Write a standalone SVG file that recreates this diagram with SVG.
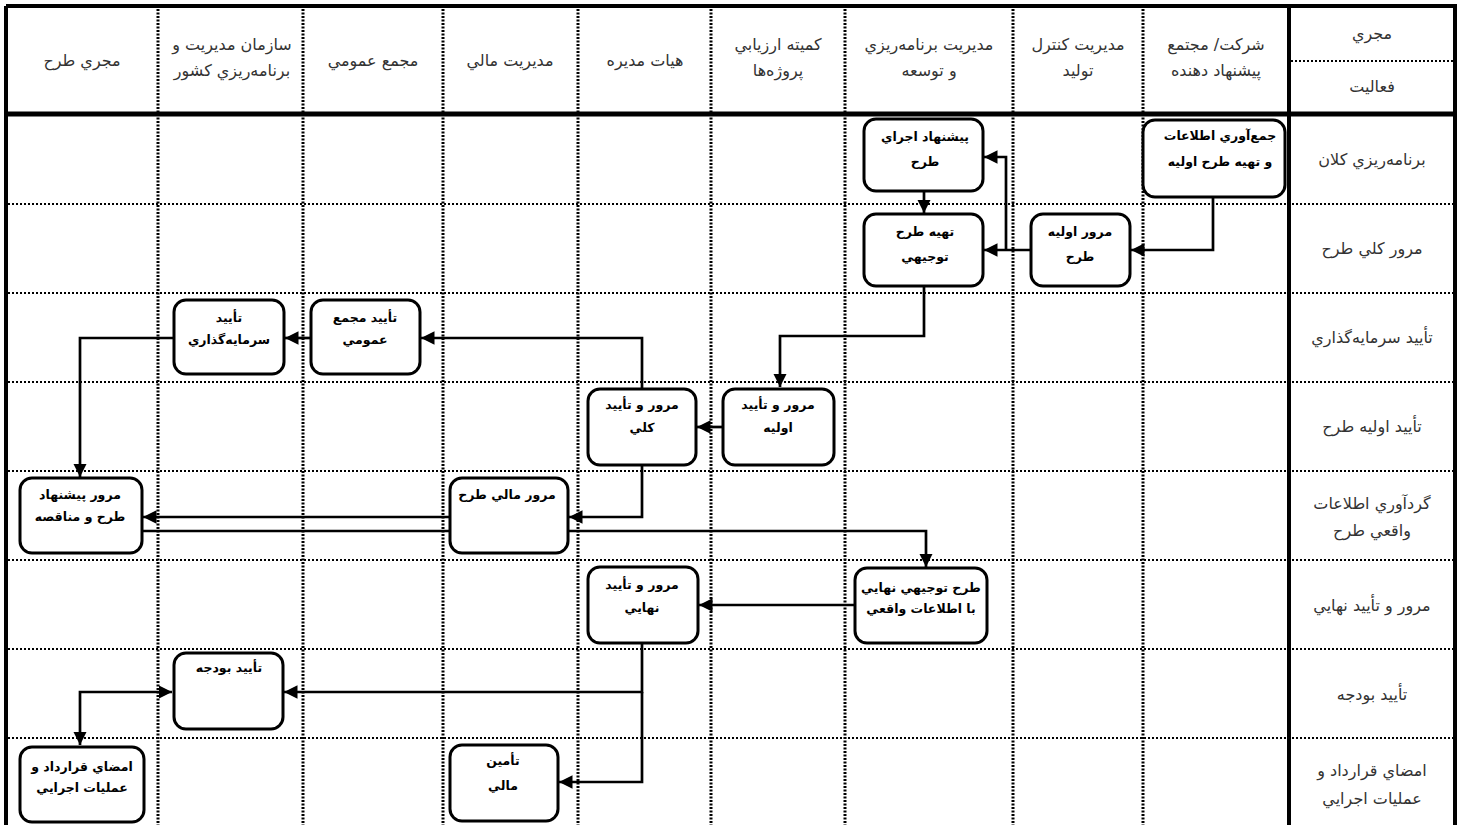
<svg xmlns="http://www.w3.org/2000/svg" width="1463" height="825" viewBox="0 0 1463 825">
<style>
.hd{font-family:"DejaVu Sans",sans-serif;font-size:16px;fill:#333;text-anchor:middle;direction:rtl}
.bx{fill:#fff;stroke:#000;stroke-width:3}
.bt{font-family:"DejaVu Sans",sans-serif;font-size:12.5px;font-weight:bold;fill:#000;text-anchor:middle;direction:rtl}
.vd{stroke:#000;stroke-width:3;stroke-dasharray:2 1.5;fill:none}
.hdl{stroke:#000;stroke-width:2;stroke-dasharray:2 2;fill:none}
.cn{stroke:#000;stroke-width:2.7;fill:none;marker-end:url(#ah)}
.cl{stroke:#000;stroke-width:2.7;fill:none}
</style>
<defs>
<marker id="ah" viewBox="0 0 10 10" refX="10" refY="5" markerWidth="5" markerHeight="5" orient="auto" markerUnits="strokeWidth">
<path d="M0,0 L10,5 L0,10 z" fill="#000"/>
</marker>
<marker id="ahs" viewBox="0 0 10 10" refX="10" refY="5" markerWidth="5" markerHeight="5" orient="auto-start-reverse" markerUnits="strokeWidth">
<path d="M0,0 L10,5 L0,10 z" fill="#000"/>
</marker>
</defs>
<rect width="1463" height="825" fill="#fff"/>
<g id="grid">
<path class="vd" d="M158,9V825M303,9V825M443,9V825M578,9V825M711,9V825M845,9V825M1013,9V825M1143,9V825"/>
<path class="hdl" d="M8,204H1454M8,293H1454M8,382H1454M8,471H1454M8,560H1454M8,649H1454M8,738H1454M1291,61H1454"/>
<path d="M6,6H1455V825M6,6V825M1289,6V825" stroke="#000" stroke-width="4" fill="none"/>
<path d="M6,114H1455" stroke="#000" stroke-width="5" fill="none"/>
</g>
<g id="headers">
<text class="hd" x="82" y="66">مجري طرح</text>
<text class="hd" x="232" y="50">سازمان مديريت و</text>
<text class="hd" x="232" y="76">برنامه‌ريزي كشور</text>
<text class="hd" x="373" y="66">مجمع عمومي</text>
<text class="hd" x="510" y="66">مديريت مالي</text>
<text class="hd" x="645" y="66">هيات مديره</text>
<text class="hd" x="778" y="50">كميته ارزيابي</text>
<text class="hd" x="778" y="76">پروژه‌ها</text>
<text class="hd" x="929" y="50">مديريت برنامه‌ريزي</text>
<text class="hd" x="929" y="76">و توسعه</text>
<text class="hd" x="1078" y="50">مديريت كنترل</text>
<text class="hd" x="1078" y="76">توليد</text>
<text class="hd" x="1216" y="50">شركت/ مجتمع</text>
<text class="hd" x="1216" y="76">پيشنهاد دهنده</text>
<text class="hd" x="1372" y="39">مجري</text>
<text class="hd" x="1372" y="92">فعاليت</text>
</g>
<g id="activities">
<text class="hd" x="1372" y="165">برنامه‌ريزي كلان</text>
<text class="hd" x="1372" y="254">مرور كلي طرح</text>
<text class="hd" x="1372" y="343">تأييد سرمايه‌گذاري</text>
<text class="hd" x="1372" y="432">تأييد اوليه طرح</text>
<text class="hd" x="1372" y="509">گردآوري اطلاعات</text>
<text class="hd" x="1372" y="536">واقعي طرح</text>
<text class="hd" x="1372" y="611">مرور و تأييد نهايي</text>
<text class="hd" x="1372" y="700">تأييد بودجه</text>
<text class="hd" x="1372" y="776">امضاي قرارداد و</text>
<text class="hd" x="1372" y="804">عمليات اجرايي</text>
</g>
<g id="connectors">
<path class="cn" d="M1213,197V250H1131"/>
<path class="cn" d="M1031,250H984"/>
<path class="cn" d="M1006,250V157H984"/>
<path class="cn" d="M924,191V213"/>
<path class="cn" d="M924,286V336H780V387"/>
<path class="cn" d="M642,388V338H421"/>
<path class="cn" d="M311,338H285"/>
<path class="cn" d="M173,338H80V477"/>
<path class="cn" d="M723,427H697"/>
<path class="cn" d="M642,465V517H569"/>
<path class="cn" d="M450,517H143"/>
<path class="cn" d="M142,531H926V567"/>
<path class="cn" d="M855,605H699"/>
<path class="cn" d="M642,643V692H284"/>
<path class="cn" d="M642,692V782H559"/>
<path class="cl" d="M172,692H80V745" marker-start="url(#ahs)" marker-end="url(#ah)"/>
</g>
<g id="n1">
<rect class="bx" x="1143" y="120" width="142" height="77" rx="12"/>
<text class="bt" x="1220" y="140">جمع‌آوري اطلاعات</text>
<text class="bt" x="1220" y="166">و تهيه طرح اوليه</text>
</g>
<g id="n2">
<rect class="bx" x="864" y="119" width="119" height="72" rx="12"/>
<text class="bt" x="925" y="141">پيشنهاد اجراي</text>
<text class="bt" x="925" y="166">طرح</text>
</g>
<g id="n3">
<rect class="bx" x="864" y="214" width="119" height="72" rx="12"/>
<text class="bt" x="925" y="236">تهيه طرح</text>
<text class="bt" x="925" y="261">توجيهي</text>
</g>
<g id="n4">
<rect class="bx" x="1031" y="214" width="99" height="72" rx="12"/>
<text class="bt" x="1080" y="236">مرور اوليه</text>
<text class="bt" x="1080" y="261">طرح</text>
</g>
<g id="n5">
<rect class="bx" x="174" y="300" width="110" height="74" rx="12"/>
<text class="bt" x="229" y="322">تأييد</text>
<text class="bt" x="229" y="344">سرمايه‌گذاري</text>
</g>
<g id="n6">
<rect class="bx" x="311" y="300" width="109" height="74" rx="12"/>
<text class="bt" x="365" y="322">تأييد مجمع</text>
<text class="bt" x="365" y="344">عمومي</text>
</g>
<g id="n7">
<rect class="bx" x="588" y="389" width="108" height="76" rx="12"/>
<text class="bt" x="642" y="409">مرور و تأييد</text>
<text class="bt" x="642" y="432">كلي</text>
</g>
<g id="n8">
<rect class="bx" x="723" y="389" width="111" height="76" rx="12"/>
<text class="bt" x="778" y="409">مرور و تأييد</text>
<text class="bt" x="778" y="432">اوليه</text>
</g>
<g id="n9">
<rect class="bx" x="20" y="478" width="122" height="75" rx="12"/>
<text class="bt" x="80" y="499">مرور پيشنهاد</text>
<text class="bt" x="80" y="521">طرح و مناقصه</text>
</g>
<g id="n10">
<rect class="bx" x="450" y="478" width="118" height="75" rx="12"/>
<text class="bt" x="507" y="499">مرور مالي طرح</text>
</g>
<g id="n11">
<rect class="bx" x="855" y="568" width="132" height="75" rx="12"/>
<text class="bt" x="921" y="592">طرح توجيهي نهايي</text>
<text class="bt" x="921" y="613">با اطلاعات واقعي</text>
</g>
<g id="n12">
<rect class="bx" x="588" y="567" width="110" height="76" rx="12"/>
<text class="bt" x="642" y="589">مرور و تأييد</text>
<text class="bt" x="642" y="612">نهايي</text>
</g>
<g id="n13">
<rect class="bx" x="174" y="653" width="109" height="76" rx="12"/>
<text class="bt" x="229" y="672">تأييد بودجه</text>
</g>
<g id="n14">
<rect class="bx" x="20" y="747" width="124" height="75" rx="12"/>
<text class="bt" x="82" y="771">امضاي قرارداد و</text>
<text class="bt" x="82" y="792">عمليات اجرايي</text>
</g>
<g id="n15">
<rect class="bx" x="450" y="745" width="108" height="76" rx="12"/>
<text class="bt" x="503" y="765">تأمين</text>
<text class="bt" x="503" y="790">مالي</text>
</g>
</svg>
